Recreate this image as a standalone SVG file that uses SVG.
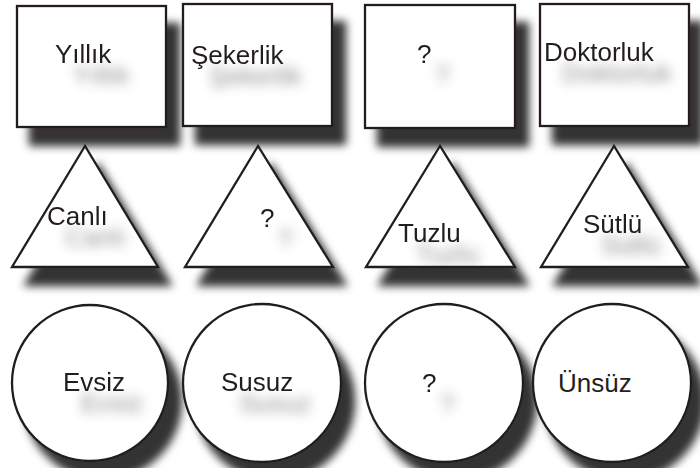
<svg xmlns="http://www.w3.org/2000/svg" width="700" height="468" viewBox="0 0 700 468">
<defs>
<filter id="sh" filterUnits="userSpaceOnUse" x="0" y="0" width="700" height="468">
<feDropShadow dx="13" dy="18" stdDeviation="4.5" flood-color="#000" flood-opacity="0.8"/>
</filter>
<filter id="tsh" filterUnits="userSpaceOnUse" x="0" y="0" width="700" height="468">
<feDropShadow dx="18" dy="21" stdDeviation="6" flood-color="#000" flood-opacity="0.45"/>
</filter>
<style>
.s{fill:#fff;stroke:#231f20;stroke-width:2.3;filter:url(#sh)}
.t{font-family:"Liberation Sans",Arial,sans-serif;font-size:26px;fill:#231f20}
.ts{filter:url(#tsh)}
</style>
</defs>
<rect width="700" height="468" fill="#fff"/>
<g id="connectors"></g>
<g id="sq1"><rect class="s" x="17" y="6" width="149" height="121"/><text class="t ts" x="55" y="63">Yıllık</text></g>
<g id="sq2"><rect class="s" x="183" y="4" width="149" height="122"/><text class="t ts" x="191" y="64">Şekerlik</text></g>
<g id="sq3"><rect class="s" x="365" y="5" width="150" height="123"/><text class="t ts" x="417" y="63">?</text></g>
<g id="sq4"><rect class="s" x="540" y="4" width="149" height="122"/><text class="t ts" x="544" y="61">Doktorluk</text></g>
<g id="tr1"><polygon class="s" points="85,146 12,267 158,267"/><text class="t ts" x="47" y="225">Canlı</text></g>
<g id="tr2"><polygon class="s" points="258,146 185,267 333,267"/><text class="t ts" x="260" y="227">?</text></g>
<g id="tr3"><polygon class="s" points="440,146 366,267 515,267"/><text class="t ts" x="398" y="242">Tuzlu</text></g>
<g id="tr4"><polygon class="s" points="614,146 541,267 688,267"/><text class="t ts" x="583" y="233">Sütlü</text></g>
<g id="c1"><circle class="s" cx="90" cy="383" r="78"/><text class="t ts" x="63" y="391">Evsiz</text></g>
<g id="c2"><circle class="s" cx="262" cy="383" r="79"/><text class="t ts" x="221" y="391">Susuz</text></g>
<g id="c3"><circle class="s" cx="444" cy="383" r="79"/><text class="t ts" x="422" y="392">?</text></g>
<g id="c4"><circle class="s" cx="612" cy="383" r="79"/><text class="t" x="558" y="392">Ünsüz</text></g>
</svg>
